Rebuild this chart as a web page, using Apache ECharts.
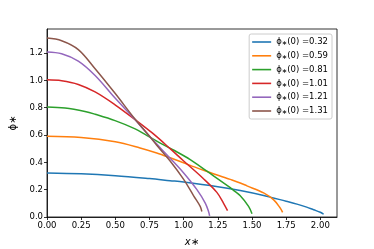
<!DOCTYPE html>
<html>
<head>
<meta charset="utf-8">
<script src="https://cdn.jsdelivr.net/npm/echarts@6/dist/echarts.min.js"></script>
<style>html,body{margin:0;padding:0;background:#fff}#c{width:374px;height:249px}</style>
</head>
<body>
<div id="c"></div>
<script>
// Legend labels (phi_*(0) values)
const phi0Labels = ['0.32', '0.59', '0.81', '1.01', '1.21', '1.31'];

// Curves: x values and phi values
const x032 = [0, 0.25, 0.5, 0.75, 0.9, 1.0, 1.25, 1.414, 1.585, 1.75, 1.829, 1.9, 1.951, 2.0, 2.024];
const y032 = [0.322, 0.316, 0.302, 0.281, 0.266, 0.256, 0.222, 0.194, 0.158, 0.115, 0.094, 0.072, 0.053, 0.035, 0.02];

const x059 = [0, 0.25, 0.5, 0.681, 0.803, 0.901, 1.048, 1.145, 1.341, 1.414, 1.463, 1.585, 1.659, 1.707, 1.724];
const y059 = [0.59, 0.581, 0.55, 0.505, 0.468, 0.433, 0.378, 0.342, 0.275, 0.249, 0.228, 0.176, 0.125, 0.065, 0.034];

const x081 = [0, 0.132, 0.278, 0.352, 0.498, 0.645, 0.718, 0.803, 0.925, 1.048, 1.17, 1.341, 1.365, 1.414, 1.475, 1.5];
const y081 = [0.805, 0.797, 0.772, 0.752, 0.705, 0.645, 0.604, 0.555, 0.49, 0.42, 0.335, 0.215, 0.195, 0.155, 0.078, 0.024];

const x101 = [0, 0.107, 0.229, 0.352, 0.498, 0.645, 0.77, 0.901, 1.0, 1.145, 1.243, 1.292, 1.321];
const y101 = [1.004, 0.997, 0.97, 0.915, 0.821, 0.712, 0.615, 0.5, 0.41, 0.28, 0.18, 0.1, 0.046];

const x121 = [0, 0.107, 0.229, 0.352, 0.498, 0.645, 0.75, 0.901, 1.0, 1.097, 1.158, 1.182, 1.19];
const y121 = [1.207, 1.194, 1.14, 1.035, 0.87, 0.712, 0.59, 0.43, 0.322, 0.2, 0.102, 0.041, 0.008];

const x131 = [0, 0.107, 0.229, 0.352, 0.498, 0.645, 0.755, 0.803, 0.901, 1.0, 1.073, 1.121, 1.133];
const y131 = [1.309, 1.29, 1.225, 1.085, 0.905, 0.715, 0.585, 0.525, 0.41, 0.275, 0.155, 0.078, 0.04];

// Tick values
const xTicks = [0, 0.25, 0.5, 0.75, 1.0, 1.25, 1.5, 1.75, 2.0];
const yTicks = [0, 0.2, 0.4, 0.6, 0.8, 1.0, 1.2];

const colors = ['#1f77b4', '#ff7f0e', '#2ca02c', '#d62728', '#9467bd', '#8c564b'];
const curvesX = [x032, x059, x081, x101, x121, x131];
const curvesY = [y032, y059, y081, y101, y121, y131];

const font = 'DejaVu Sans';
const names = phi0Labels.map(v => 'ϕ∗(0) =' + v);

const series = names.map((n, i) => ({
  name: n,
  type: 'line',
  data: curvesX[i].map((x, k) => [x, curvesY[i][k]]),
  symbol: 'none',
  showSymbol: false,
  smooth: 0.35,
  lineStyle: { width: 1.5, color: colors[i] },
  itemStyle: { color: colors[i] },
  animation: false
}));

const chart = echarts.init(document.getElementById('c'), null, { renderer: 'canvas' });
chart.setOption({
  animation: false,
  color: colors,
  grid: {
    left: 47, top: 29, width: 290, height: 188,
    outerBoundsMode: 'none', containLabel: false,
    show: true, borderColor: '#000', borderWidth: 0.8, backgroundColor: 'transparent'
  },
  legend: {
    data: names.map(n => ({ name: n, icon: 'rect' })),
    orient: 'vertical',
    right: 42, top: 34,
    padding: [3, 4, 3, 3],
    itemWidth: 19, itemHeight: 1.6, itemGap: 3.8,
    borderColor: '#cccccc', borderWidth: 1, borderRadius: 2,
    backgroundColor: 'rgba(255,255,255,0.8)',
    formatter: function (name) {
      const v = name.split('=')[1];
      return '{p|ϕ}{s|∗}{p|(0) =' + v + '}';
    },
    textStyle: {
      fontFamily: font, fontSize: 8.5, color: '#000', lineHeight: 10,
      rich: {
        p: { fontFamily: font, fontSize: 8.5, color: '#000', lineHeight: 10 },
        s: { fontFamily: font, fontSize: 6.5, color: '#000', lineHeight: 10, padding: [3, 0, 0, 0] }
      }
    }
  },
  xAxis: {
    type: 'value', min: 0, max: 2.122,
    name: 'x∗', nameLocation: 'middle', nameGap: 20,
    nameTextStyle: { fontFamily: font, fontSize: 10, color: '#000', fontStyle: 'italic' },
    axisLine: { show: true, onZero: false, lineStyle: { color: '#000', width: 0.8 } },
    axisTick: { show: true, length: 3, customValues: xTicks, lineStyle: { color: '#000', width: 0.8 } },
    axisLabel: { customValues: xTicks, formatter: v => v.toFixed(2), fontFamily: font, fontSize: 8.5, color: '#000', margin: 4 },
    splitLine: { show: false }
  },
  yAxis: {
    type: 'value', min: 0, max: 1.3755,
    name: 'ϕ∗', nameLocation: 'middle', nameGap: 28, nameRotate: 90,
    nameTextStyle: { fontFamily: font, fontSize: 10, color: '#000' },
    axisLine: { show: true, onZero: false, lineStyle: { color: '#000', width: 0.8 } },
    axisTick: { show: true, length: 3, customValues: yTicks, lineStyle: { color: '#000', width: 0.8 } },
    axisLabel: { customValues: yTicks, formatter: v => v.toFixed(1), fontFamily: font, fontSize: 8.5, color: '#000', margin: 4 },
    splitLine: { show: false }
  },
  series: series
});
</script>
</body>
</html>
